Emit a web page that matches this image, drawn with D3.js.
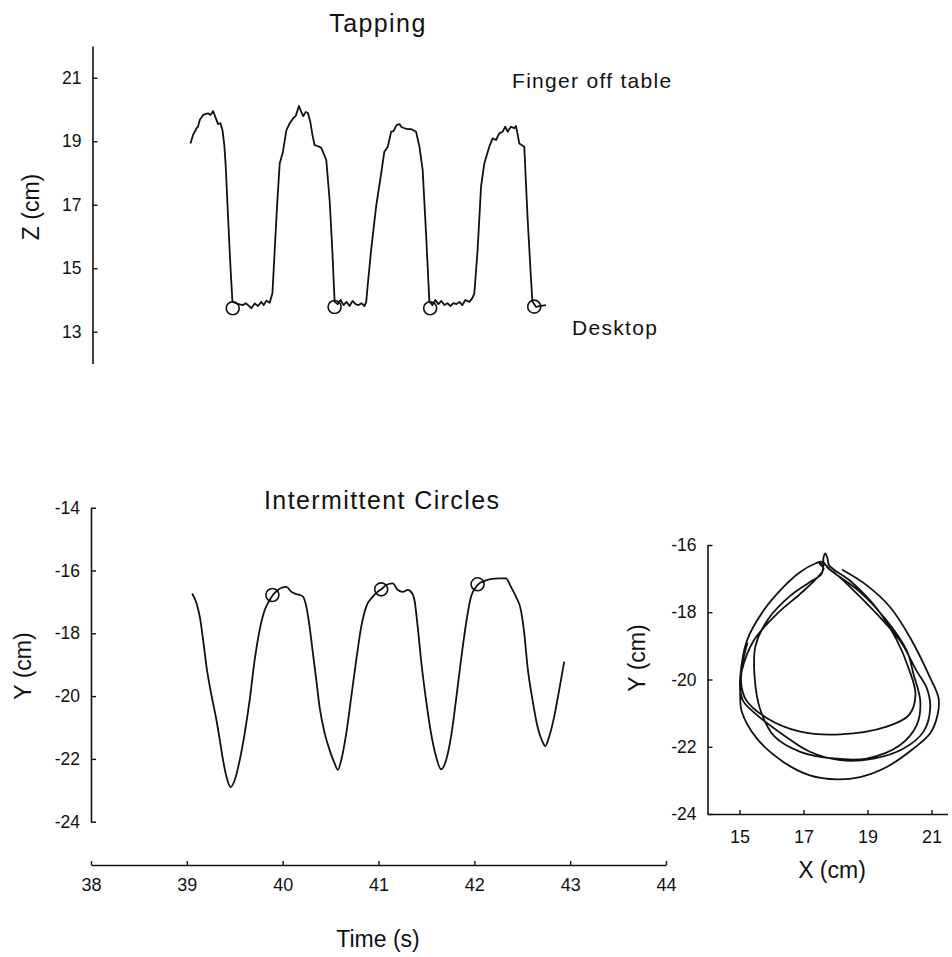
<!DOCTYPE html>
<html><head><meta charset="utf-8">
<script src="https://cdn.jsdelivr.net/npm/d3@7"></script>
<style>
body{margin:0;background:#fff;}
svg{display:block;}
text{font-family:"Liberation Sans",Arial,Helvetica,sans-serif;fill:#111;}
</style></head><body>
<svg id="chart" width="952" height="957"></svg>
<script>
// ---------- DATA ----------
const tapTime = [39.038,39.065,39.101,39.115,39.135,39.170,39.198,39.222,39.247,39.274,39.302,39.326,39.351,39.372,39.391,39.406,39.430,39.455,39.476,39.518,39.552,39.586,39.614,39.639,39.674,39.708,39.743,39.778,39.802,39.830,39.865,39.893,39.917,39.941,39.969,40.003,40.039,40.073,40.108,40.135,40.156,40.170,40.195,40.214,40.240,40.264,40.289,40.309,40.333,40.365,40.403,40.455,40.490,40.518,40.542,40.573,40.604,40.635,40.667,40.698,40.729,40.760,40.792,40.823,40.854,40.872,40.889,40.923,40.975,41.028,41.061,41.097,41.132,41.156,41.188,41.219,41.240,41.271,41.302,41.344,41.392,41.427,41.461,41.496,41.531,41.563,41.594,41.625,41.656,41.688,41.719,41.750,41.781,41.813,41.844,41.875,41.906,41.948,41.979,42.000,42.034,42.070,42.104,42.156,42.191,42.226,42.260,42.295,42.323,42.347,42.382,42.417,42.434,42.453,42.469,42.521,42.555,42.590,42.606,42.645,42.677,42.747];
const tapZ = [18.93,19.20,19.41,19.45,19.67,19.83,19.86,19.88,19.83,19.95,19.73,19.54,19.57,19.35,18.88,18.20,16.62,15.05,13.95,13.89,13.86,13.84,13.90,13.84,13.74,13.89,13.81,13.94,13.84,13.98,13.91,14.21,15.57,16.94,18.30,18.67,19.35,19.56,19.72,19.79,19.98,20.11,19.92,19.79,19.92,19.89,19.60,19.23,18.88,18.85,18.79,18.41,17.15,15.57,13.95,13.87,14.00,13.84,13.94,13.81,13.97,13.87,13.84,13.90,13.81,13.94,14.52,15.57,16.94,17.99,18.67,18.83,19.30,19.32,19.51,19.54,19.45,19.41,19.38,19.38,19.30,18.83,18.09,16.10,13.95,13.84,14.00,13.87,13.97,13.84,13.90,13.81,13.90,13.87,13.94,13.84,14.00,13.94,14.06,14.21,15.57,17.57,18.30,18.83,19.09,19.04,19.25,19.30,19.46,19.30,19.46,19.41,19.48,19.20,18.93,18.83,16.62,14.73,13.95,13.78,13.81,13.84];
const tapMarkTime = [39.479,40.542,41.539,42.625];
const tapMarkZ = [13.74,13.78,13.74,13.79];

const circTime = [39.055,39.101,39.135,39.170,39.205,39.240,39.274,39.309,39.344,39.378,39.414,39.455,39.500,39.552,39.604,39.656,39.708,39.760,39.813,39.865,39.906,39.951,39.990,40.039,40.091,40.143,40.178,40.212,40.247,40.281,40.316,40.351,40.385,40.438,40.490,40.542,40.576,40.611,40.664,40.716,40.768,40.820,40.872,40.941,40.990,41.042,41.080,41.149,41.201,41.253,41.305,41.340,41.375,41.409,41.444,41.496,41.548,41.601,41.653,41.705,41.757,41.809,41.861,41.914,41.966,42.010,42.052,42.086,42.156,42.260,42.330,42.382,42.434,42.486,42.521,42.555,42.607,42.659,42.711,42.740,42.781,42.833,42.885,42.938];
const circY = [-16.73,-17.04,-17.47,-18.21,-19.06,-19.70,-20.23,-20.76,-21.40,-22.04,-22.57,-22.90,-22.67,-22.04,-21.18,-20.12,-18.85,-17.89,-17.26,-16.94,-16.75,-16.62,-16.55,-16.52,-16.68,-16.75,-16.78,-16.83,-17.15,-17.79,-18.64,-19.49,-20.34,-21.18,-21.72,-22.14,-22.35,-22.04,-21.18,-20.02,-18.85,-17.79,-17.15,-16.83,-16.68,-16.57,-16.46,-16.41,-16.62,-16.68,-16.62,-16.68,-16.94,-17.79,-18.85,-20.12,-21.18,-21.93,-22.33,-22.04,-21.29,-20.12,-18.85,-17.68,-16.83,-16.56,-16.41,-16.36,-16.28,-16.25,-16.25,-16.52,-16.83,-17.26,-18.00,-19.06,-20.12,-20.97,-21.45,-21.59,-21.29,-20.66,-19.81,-18.90];
const circMarkTime = [39.893,41.028,42.034];
const circMarkY = [-16.78,-16.60,-16.44];

const loopX = [18.2,18.98,19.71,20.33,20.96,21.22,21.19,20.96,20.44,19.6,18.77,18.04,17.2,16.37,15.54,15.07,15.02,15.02,15.23,15.75,16.37,16.9,17.37,17.6,17.78,
  18.0,18.46,19.29,20.02,20.54,20.85,20.96,20.75,20.13,19.19,18.15,17.2,16.37,15.54,15.12,15.02,15.07,15.44,16.17,16.9,17.4,17.63,17.5,17.7,17.85,
  18.77,19.6,20.23,20.44,20.65,20.54,20.02,18.98,17.94,16.9,16.1,15.65,15.47,15.5,15.9,16.6,17.2,17.57,17.63,17.68,17.75,17.8,
  18.5,19.3,19.9,20.3,20.5,20.3,19.6,18.15,16.9,15.86,15.2,15.05,15.1,15.25];
const loopY = [-16.73,-17.2,-17.85,-18.75,-19.95,-20.55,-21.05,-21.6,-22.05,-22.6,-22.9,-22.97,-22.85,-22.45,-21.75,-20.95,-20.35,-19.95,-18.85,-17.95,-17.25,-16.8,-16.55,-16.5,-16.7,
  -16.85,-17.25,-18.05,-18.85,-19.75,-20.25,-20.85,-21.55,-22.05,-22.35,-22.4,-22.15,-21.65,-21.05,-20.65,-20.25,-19.75,-18.85,-18.05,-17.45,-17.0,-16.7,-16.55,-16.6,-16.75,
  -17.4,-18.25,-19.15,-19.85,-20.65,-21.35,-21.95,-22.35,-22.35,-22.15,-21.7,-20.9,-19.9,-19.0,-18.2,-17.5,-17.1,-16.85,-16.35,-16.25,-16.4,-16.6,
  -17.1,-17.9,-18.8,-19.7,-20.45,-21.05,-21.4,-21.63,-21.55,-21.15,-20.6,-20.1,-19.5,-18.9];

const timeTicks = [38,39,40,41,42,43,44];
const zTicks = [13,15,17,19,21];
const yTicks = [-24,-22,-20,-18,-16,-14];
const xyXTicks = [15,17,19,21];
const xyYTicks = [-24,-22,-20,-18,-16];

// ---------- DRAW ----------
const svg = d3.select("#chart");
const ink = "#111";

const xTime = d3.scaleLinear().domain([38,44]).range([91,666]);
const yZ = d3.scaleLinear().domain([12,22]).range([363.5,46]);
const yY = d3.scaleLinear().domain([-24,-14]).range([821.7,507.7]);
const xR = d3.scaleLinear().domain([14,21.5]).range([707.5,947.5]);
const yR = d3.scaleLinear().domain([-24,-16]).range([814,545]);

function styleAxis(g, fs){
  g.select(".domain").attr("stroke",ink).attr("stroke-width",1.6);
  g.selectAll(".tick line").attr("stroke",ink).attr("stroke-width",1.4);
  g.selectAll(".tick text").attr("font-size",fs).attr("fill",ink)
    .attr("font-family",'"Liberation Sans",Arial,sans-serif');
}

// Top chart (Tapping)
const gTopAx = svg.append("g").attr("transform","translate(92.5,0)")
  .call(d3.axisLeft(yZ).tickValues(zTicks).tickFormat(d3.format("d")).tickSizeInner(-5).tickSizeOuter(0).tickPadding(11));
styleAxis(gTopAx, 17.5);

const lineTap = d3.line().x((d,i)=>xTime(tapTime[i])).y((d,i)=>yZ(tapZ[i]));
svg.append("path").attr("d", lineTap(tapTime)).attr("fill","none")
  .attr("stroke",ink).attr("stroke-width",1.8).attr("stroke-linejoin","round");
svg.append("g").selectAll("circle").data(tapMarkTime).join("circle")
  .attr("cx",(d)=>xTime(d)).attr("cy",(d,i)=>yZ(tapMarkZ[i])).attr("r",6.5)
  .attr("fill","none").attr("stroke",ink).attr("stroke-width",1.6);

svg.append("text").attr("x",378).attr("y",32).attr("text-anchor","middle")
  .attr("font-size",25).attr("letter-spacing",1.4).text("Tapping");
svg.append("text").attr("x",512).attr("y",88)
  .attr("font-size",21).attr("letter-spacing",1.3).text("Finger off table");
svg.append("text").attr("x",572).attr("y",335)
  .attr("font-size",21).attr("letter-spacing",1.3).text("Desktop");
svg.append("text").attr("transform","translate(39,207) rotate(-90)").attr("text-anchor","middle")
  .attr("font-size",23).text("Z (cm)");

// Bottom chart (Intermittent Circles)
const gBotY = svg.append("g").attr("transform","translate(91,0)")
  .call(d3.axisLeft(yY).tickValues(yTicks).tickFormat(d3.format("d")).tickSizeInner(-5).tickSizeOuter(0).tickPadding(11));
styleAxis(gBotY, 17.5);
gBotY.selectAll(".tick text").text(d=>String(d));

const gBotX = svg.append("g").attr("transform","translate(0,865)")
  .call(d3.axisBottom(xTime).tickValues(timeTicks).tickFormat(d3.format("d")).tickSizeInner(-4).tickSizeOuter(0).tickPadding(13));
styleAxis(gBotX, 18);

const lineCirc = d3.line().curve(d3.curveMonotoneX).x((d,i)=>xTime(circTime[i])).y((d,i)=>yY(circY[i]));
svg.append("path").attr("d", lineCirc(circTime)).attr("fill","none")
  .attr("stroke",ink).attr("stroke-width",1.8);
svg.append("g").selectAll("circle").data(circMarkTime).join("circle")
  .attr("cx",(d)=>xTime(d)).attr("cy",(d,i)=>yY(circMarkY[i])).attr("r",6.5)
  .attr("fill","none").attr("stroke",ink).attr("stroke-width",1.6);

svg.append("text").attr("x",264).attr("y",509)
  .attr("font-size",25).attr("letter-spacing",1.4).text("Intermittent Circles");
svg.append("text").attr("transform","translate(31,666) rotate(-90)").attr("text-anchor","middle")
  .attr("font-size",23).text("Y (cm)");
svg.append("text").attr("x",378).attr("y",947).attr("text-anchor","middle")
  .attr("font-size",23).text("Time (s)");

// Right chart (X-Y path)
const gRY = svg.append("g").attr("transform","translate(707.5,0)")
  .call(d3.axisLeft(yR).tickValues(xyYTicks).tickFormat(d3.format("d")).tickSizeInner(-5).tickSizeOuter(0).tickPadding(11));
styleAxis(gRY, 17.5);
gRY.selectAll(".tick text").text(d=>String(d));
const gRX = svg.append("g").attr("transform","translate(0,814)")
  .call(d3.axisBottom(xR).tickValues(xyXTicks).tickFormat(d3.format("d")).tickSizeInner(-4).tickSizeOuter(0).tickPadding(16));
styleAxis(gRX, 18);

const lineXY = d3.line().curve(d3.curveCatmullRom.alpha(0.5)).x((d,i)=>xR(loopX[i])).y((d,i)=>yR(loopY[i]));
svg.append("path").attr("d", lineXY(loopX)).attr("fill","none")
  .attr("stroke",ink).attr("stroke-width",1.8);

svg.append("text").attr("transform","translate(645,658) rotate(-90)").attr("text-anchor","middle")
  .attr("font-size",23).text("Y (cm)");
svg.append("text").attr("x",832).attr("y",878).attr("text-anchor","middle")
  .attr("font-size",23).text("X (cm)");
</script>
</body></html>
